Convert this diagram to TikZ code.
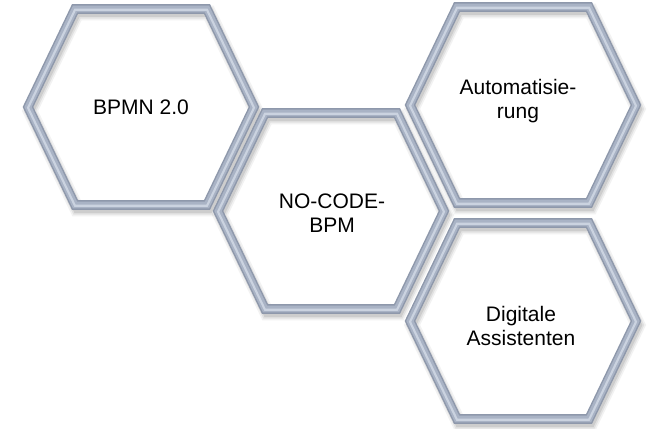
\documentclass[tikz,border=0pt]{standalone}
\usepackage{fontspec}
\setmainfont{Liberation Sans}
\usepackage{xcolor}
\usepackage{tikz}

\definecolor{barout}{HTML}{8E98AB}
\definecolor{barmid}{HTML}{A9B3C5}
\definecolor{barhi}{HTML}{CBD3E0}

\begin{document}
\begin{tikzpicture}[
            x = 0.75pt, y = -0.75pt,
            hexcell/.pic = {
                \path[pic actions] (-113,0) -- (-66,-98) -- (66,-98)
                      -- (113,0) -- (66,98) -- (-66,98) -- cycle;
            },
            softshadow/.style = {draw=black, opacity=#1, line join=miter},
            barline/.style = {draw=#1, line join=miter},
            celltext/.style = {align=center, text=black,
                         font=\fontsize{15.75}{18.1}\selectfont}
        ]
            \useasboundingbox (0,0) rectangle (648,428);
            \coordinate (bpmn)   at (141,107);
            \coordinate (nocode) at (331,211);
            \coordinate (auto)   at (523,105);
            \coordinate (assist) at (523,321);

            % shadows first, then the bars
            \foreach \c in {bpmn,nocode,auto,assist} {
                \pic[softshadow=.05, line width=11pt] at ([shift={(2,4)}]\c) {hexcell};
                \pic[softshadow=.07, line width=8.5pt] at ([shift={(2,4)}]\c) {hexcell};
                \pic[softshadow=.09, line width=6pt] at ([shift={(2,4)}]\c) {hexcell};
            }
            \foreach \c in {bpmn,nocode,auto,assist} {
                \pic[barline=barout, line width=7.2pt] at (\c) {hexcell};
                \pic[barline=barmid, line width=5pt] at (\c) {hexcell};
                \pic[barline=barhi, line width=1.6pt] at ([shift={(0,0.8)}]\c) {hexcell};
            }

            \node[celltext] (bpmnt)   at (141,107) {BPMN 2.0};
            \node[celltext] (nocodet) at (332,213) {NO-CODE-\\BPM};
            \node[celltext] (autot)   at (518,101) {Automatisie-\\rung};
            \node[celltext] (assistt) at (521,326) {Digitale\\Assistenten};
        \end{tikzpicture}
\end{document}
